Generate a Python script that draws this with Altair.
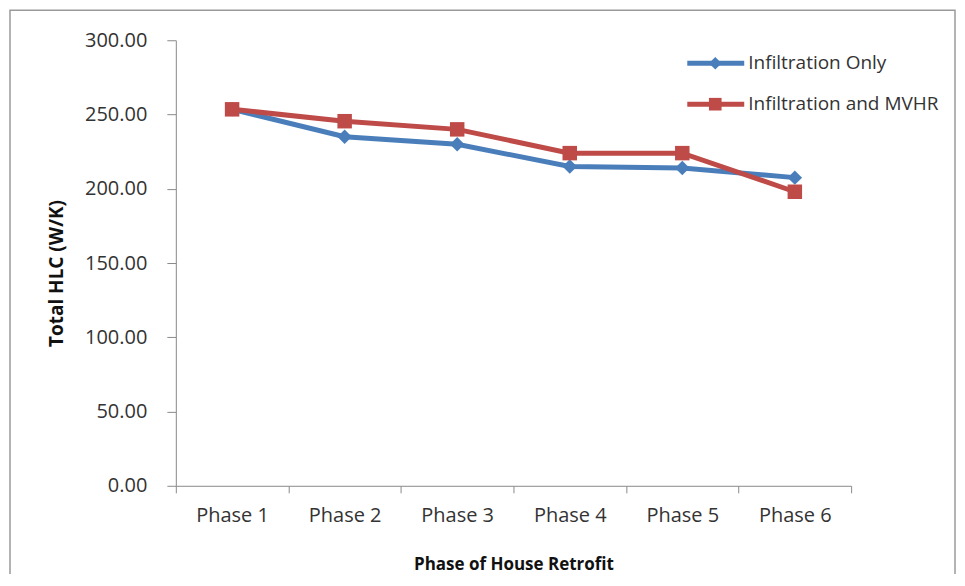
import altair as alt
import pandas as pd

phases = ["Phase 1", "Phase 2", "Phase 3", "Phase 4", "Phase 5", "Phase 6"]
infiltration_only = [253.5, 235.0, 230.0, 215.0, 214.0, 207.5]
infiltration_mvhr = [253.5, 245.5, 240.0, 224.0, 224.0, 198.0]
series_names = ["Infiltration Only", "Infiltration and MVHR"]
series_colors = ["#4A7EBB", "#BE4B48"]
series_shapes = ["diamond", "square"]
y_ticks = [0, 50, 100, 150, 200, 250, 300]

rows = []
for name, vals in zip(series_names, [infiltration_only, infiltration_mvhr]):
    for p, v in zip(phases, vals):
        rows.append({"phase": p, "value": v, "series": name})
df = pd.DataFrame(rows)

FONT = "Open Sans"
W, H = 676, 446

x_enc = alt.X("phase:N", sort=phases,
              scale=alt.Scale(type="band", paddingInner=0, paddingOuter=0),
              axis=alt.Axis(title="Phase of House Retrofit", labelAngle=0,
                            tickBand="extent", tickSize=7, labelPadding=13,
                            labelFontSize=20, labelColor="#333333",
                            titleFontSize=17, titleFontWeight="bold",
                            titleColor="#111111", titlePadding=31,
                            domainColor="#8a8a8a", tickColor="#8a8a8a",
                            grid=False, labelFont=FONT, titleFont=FONT))
y_enc = alt.Y("value:Q", scale=alt.Scale(domain=[0, 300], nice=False),
              axis=alt.Axis(title="Total HLC (W/K)", values=y_ticks, format=".2f",
                            tickSize=9, labelPadding=20, labelFontSize=20,
                            labelColor="#333333", titleFontSize=19,
                            titleFontWeight="bold", titleColor="#111111",
                            titleX=-119, titleY=233, titleAngle=270,
                            titleAlign="center", titleBaseline="middle",
                            domainColor="#8a8a8a", tickColor="#8a8a8a",
                            grid=False, labelFont=FONT, titleFont=FONT))
color_enc = alt.Color("series:N", scale=alt.Scale(domain=series_names, range=series_colors), legend=None)
shape_enc = alt.Shape("series:N", scale=alt.Scale(domain=series_names, range=series_shapes), legend=None)

lines = alt.Chart(df).mark_line(strokeWidth=5).encode(x=x_enc, y=y_enc, color=color_enc)
points = alt.Chart(df).mark_point(filled=True, size=210, opacity=1).encode(
    x=x_enc, y=y_enc, color=color_enc, shape=shape_enc)

frame = alt.Chart(pd.DataFrame({"a": [0]})).mark_rect(
    fill=None, stroke="#9a9a9a", strokeWidth=1.5).encode(
    x=alt.value(-166), x2=alt.value(780), y=alt.value(-30), y2=alt.value(600))

legend_layers = []
legend_y = [23, 64]
for name, col, shp, ly in zip(series_names, series_colors, series_shapes, legend_y):
    ldf = pd.DataFrame({"series": [name]})
    legend_layers.append(alt.Chart(ldf).mark_rule(strokeWidth=5, color=col).encode(
        x=alt.value(512), x2=alt.value(569), y=alt.value(ly)))
    legend_layers.append(alt.Chart(ldf).mark_point(filled=True, size=160, opacity=1, color=col, shape=shp).encode(
        x=alt.value(540), y=alt.value(ly)))
    legend_layers.append(alt.Chart(ldf).mark_text(align="left", baseline="middle", fontSize=19,
                                                  font=FONT, color="#333333").encode(
        x=alt.value(573), y=alt.value(ly), text="series:N"))

chart = alt.layer(frame, lines, points, *legend_layers).properties(
    width=W, height=H,
    autosize=alt.AutoSizeParams(type="none"),
    padding={"left": 168, "top": 32, "right": 106, "bottom": 88},
    background="white",
).configure_view(stroke=None)

chart.save("out.html", embed_options={"renderer": "svg", "actions": False})
